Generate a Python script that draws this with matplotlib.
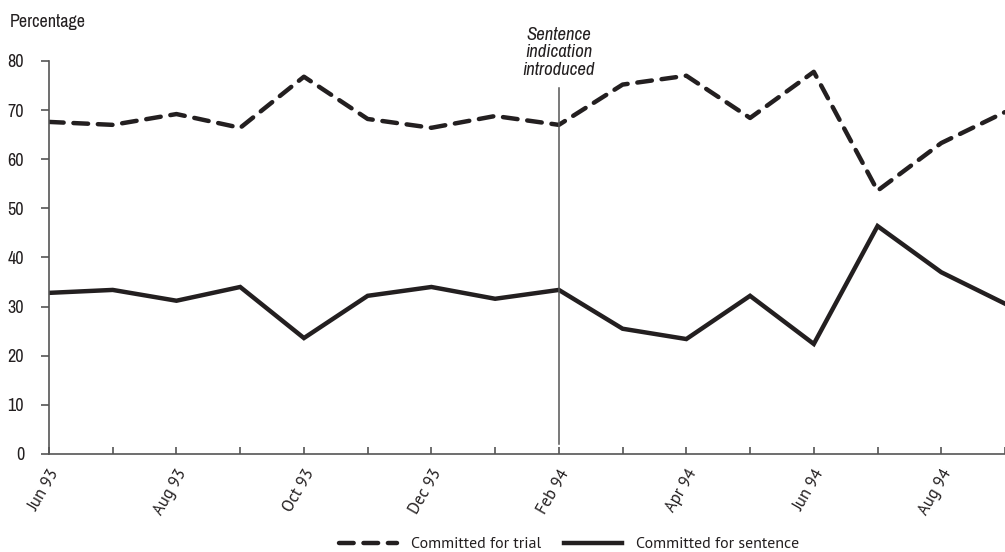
import matplotlib
matplotlib.use("Agg")
import matplotlib.pyplot as plt
from matplotlib import font_manager

months = ["Jun 93", "Jul 93", "Aug 93", "Sep 93", "Oct 93", "Nov 93", "Dec 93", "Jan 94",
          "Feb 94", "Mar 94", "Apr 94", "May 94", "Jun 94", "Jul 94", "Aug 94", "Sep 94"]
trial = [67.6, 67.0, 69.2, 66.4, 76.8, 68.2, 66.4, 68.8, 67.0, 75.2, 77.0, 68.4, 77.8, 53.6, 63.3, 69.6]
sentence = [32.8, 33.4, 31.2, 34.0, 23.6, 32.2, 34.0, 31.6, 33.4, 25.5, 23.4, 32.2, 22.4, 46.4, 37.0, 30.6]
yticks = [0, 10, 20, 30, 40, 50, 60, 70, 80]

names = {f.name for f in font_manager.fontManager.ttflist}


def pick(cands, default="DejaVu Sans"):
    for c in cands:
        if c in names:
            return c
    return default


narrow = pick(["Liberation Sans Narrow", "Arial Narrow", "Archivo Narrow", "PT Sans Narrow",
               "Roboto Condensed", "Arimo", "Liberation Sans"])
myriad = pick(["Myriad Pro", "PT Sans", "Hind", "Open Sans", "Liberation Sans"])
plt.rcParams['font.family'] = [narrow, 'DejaVu Sans']

W, H = 1005, 552
fig = plt.figure(figsize=(W / 100, H / 100), dpi=100)
ax = fig.add_axes([49 / W, (H - 454) / H, (W - 49) / W, (454 - 61) / H])

x = list(range(len(months)))
col = "#231f20"
ax.plot(x, trial, color=col, lw=3.2, dashes=(3.3, 2.2), dash_capstyle='round',
        label="Committed for trial")
ax.plot(x, sentence, color=col, lw=3.2, solid_joinstyle='miter', label="Committed for sentence")

feb = months.index("Feb 94")
ax.plot([feb, feb], [2.0, 74.6], color="#555555", lw=1.1)
ax.text(feb, 76.6, "Sentence\nindication\nintroduced", ha='center', va='bottom',
        fontsize=13.5, style='italic', color=col, linespacing=1.12)

ax.set_xlim(0, 14.8)
ax.set_ylim(0, 80)
ax.set_yticks(yticks)
ax.set_xticks(x)
ax.set_xticklabels([m if i % 2 == 0 else "" for i, m in enumerate(months)],
                   rotation=60, ha='right', rotation_mode='anchor', fontsize=12, color=col,
                   family=[myriad, 'DejaVu Sans'], fontweight='normal')
ax.tick_params(axis='x', direction='in', length=5, width=1.2, color="#555555", pad=9)
ax.tick_params(axis='y', direction='out', length=6, width=1.2, color="#555555",
               labelsize=13, labelcolor=col, pad=12)
for s in ['top', 'right']:
    ax.spines[s].set_visible(False)
for s in ['left', 'bottom']:
    ax.spines[s].set_color("#555555")
    ax.spines[s].set_linewidth(1.2)

fig.text(10 / W, 1 - 22 / H, "Percentage", fontsize=13, color=col, va='center', ha='left')

leg = fig.legend(loc='center', bbox_to_anchor=(569 / W, 1 - 544 / H), ncol=2, frameon=False,
                 handlelength=3.63, columnspacing=1.44, handletextpad=0.88,
                 prop={'family': [myriad, 'DejaVu Sans'], 'size': 11.5, 'weight': 'normal'})
for t in leg.get_texts():
    t.set_color(col)

fig.savefig("out.png", dpi=100)
